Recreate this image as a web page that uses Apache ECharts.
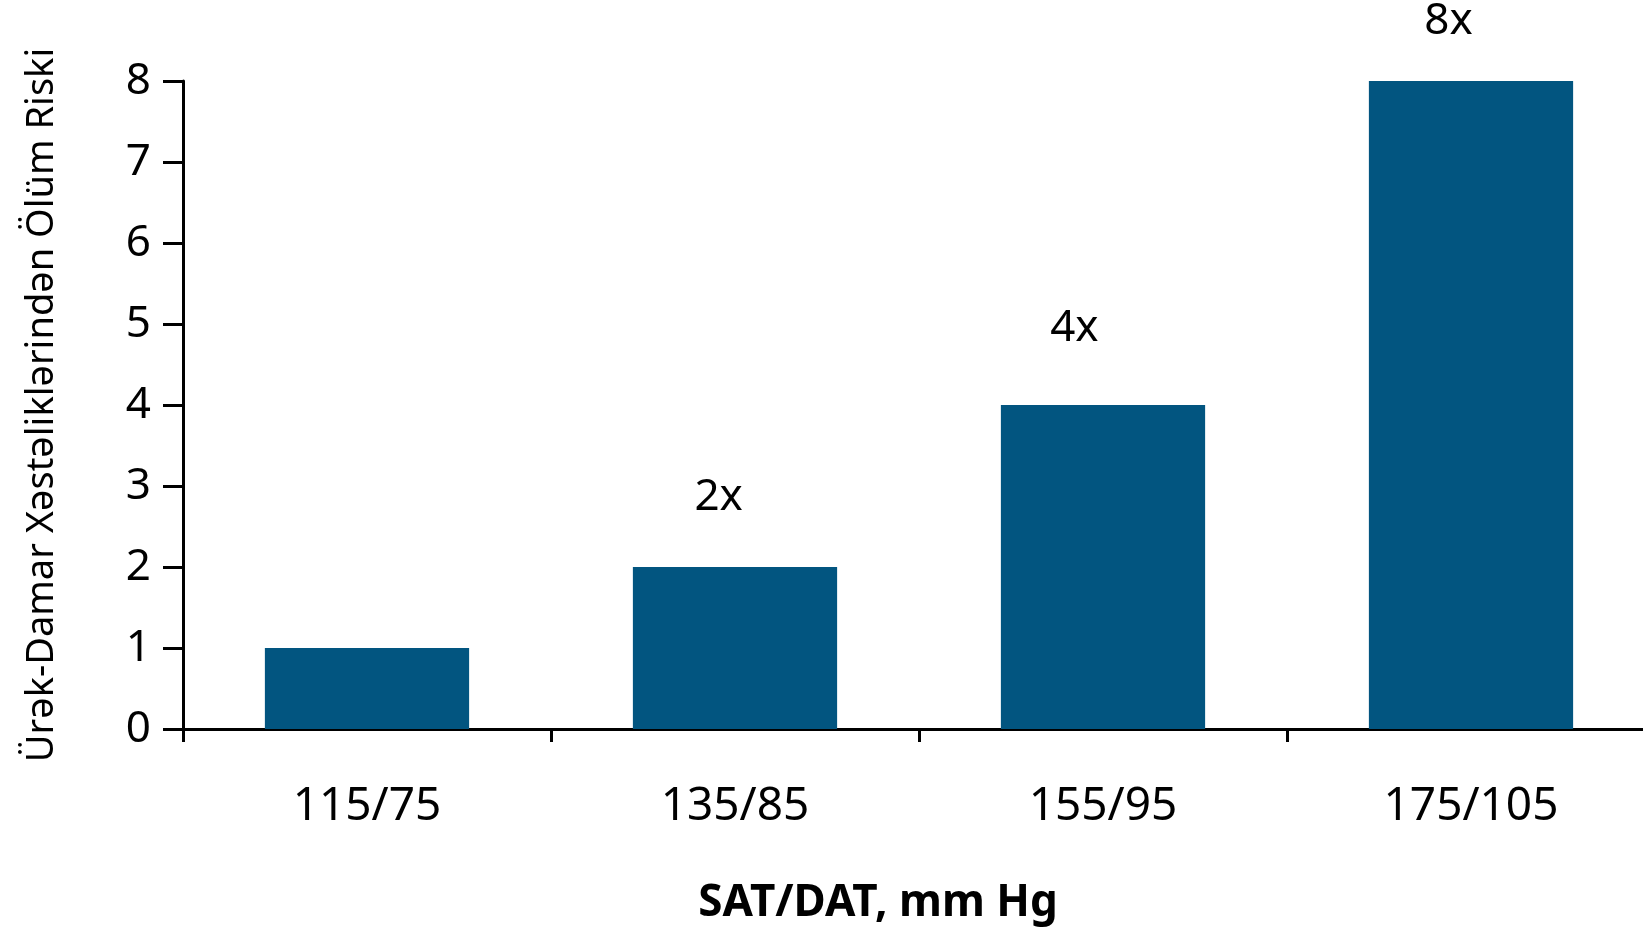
<!DOCTYPE html>
<html>
<head>
<meta charset="utf-8">
<script src="https://cdn.jsdelivr.net/npm/echarts@6/dist/echarts.min.js"></script>
<style>
html,body{margin:0;padding:0;background:#fff;overflow:hidden;width:1643px;height:934px;}
#chart{width:1655px;height:934px;}
</style>
</head>
<body>
<div id="chart"></div>
<script>
const categories = ['115/75', '135/85', '155/95', '175/105'];
const riskValues = [1, 2, 4, 8];
const barLabels = ['', '2x', '4x', '8x'];
const yTicks = [0, 1, 2, 3, 4, 5, 6, 7, 8];
const yAxisTitle = 'Ürək-Damar Xəstəliklərindən Ölüm Riski';
const xAxisTitle = 'SAT/DAT, mm Hg';

// label placement relative to each bar's top-left corner (styling, not data)
const labelPlacement = [['50%', -60], ['42%', -70], ['36%', -77], ['39%', -60]];

const FONT = '"Noto Sans", "Open Sans", sans-serif';
const chart = echarts.init(document.getElementById('chart'));
chart.setOption({
  animation: false,
  backgroundColor: '#ffffff',
  grid: { left: 183, right: 0, top: 81, bottom: 205, containLabel: false },
  xAxis: {
    type: 'category',
    data: categories,
    name: xAxisTitle,
    nameLocation: 'middle',
    nameGap: 152,
    nameTextStyle: { fontFamily: FONT, fontSize: 44, fontWeight: 'bold', color: '#000', padding: [0, 82, 0, 0] },
    axisLine: { lineStyle: { color: '#000', width: 3 } },
    axisTick: { show: true, length: 13, lineStyle: { color: '#000', width: 3 } },
    axisLabel: { fontFamily: FONT, fontSize: 46, color: '#000', margin: 55 },
    splitLine: { show: false }
  },
  yAxis: {
    type: 'value',
    min: yTicks[0],
    max: yTicks[yTicks.length - 1],
    interval: 1,
    name: yAxisTitle,
    nameLocation: 'middle',
    nameRotate: 90,
    nameGap: 122,
    nameTextStyle: { fontFamily: FONT, fontSize: 38, color: '#000' },
    axisLine: { show: true, lineStyle: { color: '#000', width: 3 } },
    axisTick: { show: true, length: 20, lineStyle: { color: '#000', width: 3 } },
    axisLabel: { fontFamily: FONT, fontSize: 44, color: '#000', margin: 32 },
    splitLine: { show: false }
  },
  series: [{
    type: 'bar',
    barWidth: '55.5%',
    itemStyle: { color: '#025580' },
    data: riskValues.map((v, i) => ({
      value: v,
      label: {
        show: barLabels[i] !== '',
        formatter: barLabels[i],
        position: labelPlacement[i],
        align: 'center',
        verticalAlign: 'middle',
        fontFamily: FONT,
        fontSize: 44,
        color: '#000'
      }
    }))
  }]
});
</script>
</body>
</html>
